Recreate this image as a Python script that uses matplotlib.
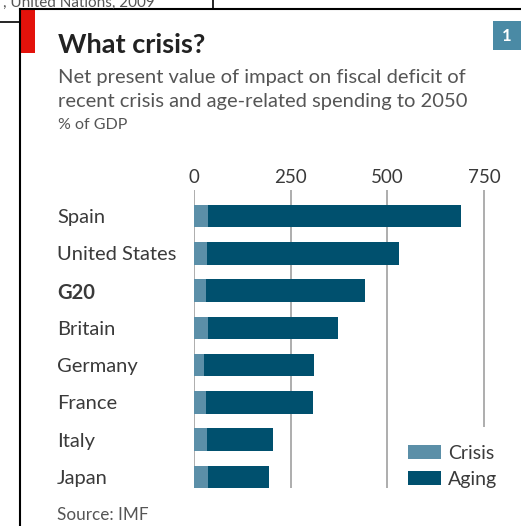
import numpy as np
import matplotlib.pyplot as plt
from matplotlib.lines import Line2D
from matplotlib.patches import Rectangle

plt.rcParams['font.family'] = ['Lato', 'DejaVu Sans']

countries = ["Spain", "United States", "G20", "Britain", "Germany", "France", "Italy", "Japan"]
crisis = np.array([36, 33, 31, 37, 26, 31, 33, 37])
aging = np.array([654, 496, 411, 335, 283, 276, 171, 157])
ticks = [0, 250, 500, 750]

W, H = 521, 526
dark = '#00506e'
light = '#5b8fa8'
txt = '#3a3a3a'

fig = plt.figure(figsize=(W / 100, H / 100), dpi=100)


def fx(x):
    return x / W


def fy(y):
    return 1 - y / H


# Rahmen / Bildschirmausschnitt
fig.add_artist(Line2D([fx(20), 1], [fy(9), fy(9)], color='black', lw=1.5))
fig.add_artist(Line2D([fx(20), fx(20)], [fy(9), 0], color='black', lw=1.5))
fig.add_artist(Line2D([0, fx(20)], [fy(22), fy(22)], color='black', lw=1.2))
fig.add_artist(Line2D([fx(213), fx(213)], [1, fy(9)], color='black', lw=1.2))
fig.text(fx(3), fy(3), ", United Nations, 2009", fontsize=11, color='#555555', va='center')

fig.add_artist(Rectangle((fx(21), fy(53)), fx(14), fy(10) - fy(53), color='#e3120b', lw=0))
fig.add_artist(Rectangle((fx(493), fy(50)), fx(30), fy(21) - fy(50), color='#4a8aa5', lw=0))
fig.text(fx(507), fy(36), "1", color='white', fontsize=12, fontweight='bold', ha='center', va='center')

fig.text(fx(58), fy(45), "What crisis?", fontsize=19.5, fontweight='bold', color='#222222', va='center')
fig.text(fx(58), fy(77), "Net present value of impact on fiscal deficit of", fontsize=14.5,
         color='#555555', va='center')
fig.text(fx(58), fy(101), "recent crisis and age-related spending to 2050", fontsize=14.5,
         color='#555555', va='center')
fig.text(fx(58), fy(125), "% of GDP", fontsize=11.5, color='#555555', va='center')
fig.text(fx(57), fy(515), "Source: IMF", fontsize=12.3, color='#555555', va='center')

ax = fig.add_axes([fx(194), fy(488), fx(490) - fx(194), fy(190) - fy(488)])
y = np.arange(len(countries))
ax.vlines([0, 250, 500], -0.7, 7.3, color='#a0a0a0', lw=1.2, zorder=0)
ax.vlines(750, -0.7, 5.65, color='#a0a0a0', lw=1.2, zorder=0)
ax.barh(y, crisis, height=0.6, color=light, label='Crisis')
ax.barh(y, aging, left=crisis, height=0.6, color=dark, label='Aging')

ax.set_xlim(0, 765)
ax.set_ylim(7.3, -0.7)
ax.xaxis.tick_top()
ax.set_xticks(ticks)
ax.set_xticklabels([str(t) for t in ticks])
ax.set_yticks(y)
ax.set_yticklabels(countries)
ax.tick_params(axis='x', length=0, pad=3, labelsize=13.5, labelcolor=txt)
ax.tick_params(axis='y', length=0, pad=98.6, labelsize=14.5, labelcolor=txt)
for lab in ax.get_yticklabels():
    lab.set_horizontalalignment('left')
    if lab.get_text() == 'G20':
        lab.set_fontweight('bold')
for s in ax.spines.values():
    s.set_visible(False)

ax.legend(loc='upper left', bbox_to_anchor=(fx(408), fy(445)), bbox_transform=fig.transFigure,
          frameon=False, fontsize=14, handlelength=1.7, handleheight=0.75,
          handletextpad=0.35, labelspacing=0.45, borderpad=0, borderaxespad=0,
          labelcolor=txt)

fig.savefig('out.png', dpi=100)
